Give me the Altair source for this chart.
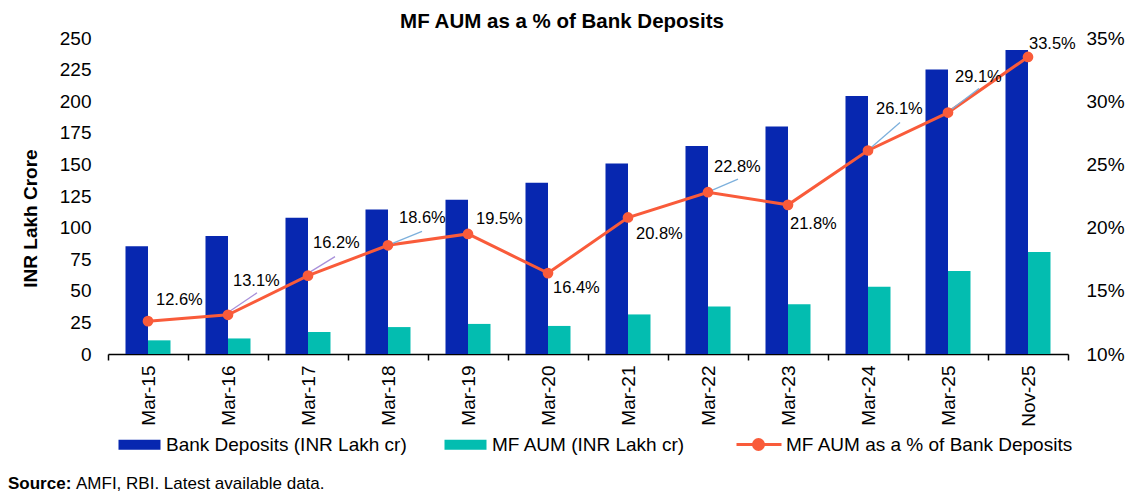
import altair as alt
import pandas as pd

# ---------------- data ----------------
months = ["Mar-15", "Mar-16", "Mar-17", "Mar-18", "Mar-19", "Mar-20",
          "Mar-21", "Mar-22", "Mar-23", "Mar-24", "Mar-25", "Nov-25"]
bank_deposits = [85.3, 93.3, 107.8, 114.3, 122.0, 135.4,
                 150.8, 164.5, 180.0, 204.2, 225.0, 240.6]
mf_aum = [10.8, 12.3, 17.4, 21.3, 23.8, 22.2,
          31.3, 37.5, 39.3, 53.2, 65.6, 80.6]
mf_pct = [12.6, 13.1, 16.2, 18.6, 19.5, 16.4,
          20.8, 22.8, 21.8, 26.1, 29.1, 33.5]
bar_series = ["Bank Deposits (INR Lakh cr)", "MF AUM (INR Lakh cr)"]
line_series = "MF AUM as a % of Bank Deposits"
left_ticks = [0, 25, 50, 75, 100, 125, 150, 175, 200, 225, 250]
right_ticks = [0.10, 0.15, 0.20, 0.25, 0.30, 0.35]

bars_df = pd.DataFrame({
    "month": months * 2,
    "series": [bar_series[0]] * len(months) + [bar_series[1]] * len(months),
    "value": bank_deposits + mf_aum,
})
line_df = pd.DataFrame({"month": months, "pct": [p / 100 for p in mf_pct]})

# ---------------- style ----------------
BLUE = "#0727B0"
TEAL = "#03BDB0"
ORANGE = "#F95B3A"
FONT = "Liberation Sans"

# label offsets (dx, dy) from each point
label_offsets = {
    "Mar-15": (8, -21), "Mar-16": (5, -34), "Mar-17": (5, -33),
    "Mar-18": (11, -27), "Mar-19": (8, -15), "Mar-20": (5, 15),
    "Mar-21": (8, 17), "Mar-22": (6, -25), "Mar-23": (2, 19),
    "Mar-24": (8, -41), "Mar-25": (7, -36), "Nov-25": (1, -13),
}
# leader lines (start dx, start dy, end dx, end dy, colour)
leader_offsets = {
    "Mar-16": (1, -3, 29, -22, "#A890DA"),
    "Mar-17": (1, -3, 27, -19, "#A890DA"),
    "Mar-18": (2, -1, 34, -14, "#7DB0DC"),
    "Mar-22": (2, -1, 30, -13, "#7DB0DC"),
    "Mar-24": (2, -2, 32, -28, "#7DB0DC"),
    "Mar-25": (2, -2, 31, -24, "#7DB0DC"),
}

x_enc = alt.X(
    "month:N", sort=months,
    scale=alt.Scale(paddingInner=0, paddingOuter=0),
    axis=alt.Axis(title=None, labelAngle=-90, labelFontSize=19, labelColor="black",
                  labelPadding=5, domainColor="black", domainWidth=1.5,
                  tickColor="black", tickWidth=1.5, tickSize=6, tickBand="extent",
                  grid=False),
)

bars = alt.Chart(bars_df).mark_bar().encode(
    x=x_enc,
    xOffset=alt.XOffset("series:N", sort=bar_series,
                        scale=alt.Scale(paddingInner=0, paddingOuter=0.778)),
    y=alt.Y("value:Q", scale=alt.Scale(domain=[0, 250], nice=False),
            axis=alt.Axis(values=left_ticks, title="INR Lakh Crore", domain=False,
                          ticks=False, grid=False, labelFontSize=19, labelColor="black",
                          labelPadding=17, titleFontSize=19, titleFontWeight="bold",
                          titleColor="black", titleAngle=270, titleX=-78, titleY=180,
                          titleAlign="center", titleBaseline="middle")),
    color=alt.Color("series:N", sort=bar_series,
                    scale=alt.Scale(domain=bar_series, range=[BLUE, TEAL]),
                    legend=alt.Legend(title=None, orient="none", legendX=6, legendY=397,
                                      direction="horizontal", padding=0,
                                      symbolType="M-1,-1H7.4V1H-1Z", symbolSize=100,
                                      symbolStrokeWidth=0, labelFontSize=19,
                                      labelColor="black", labelOffset=33,
                                      columnPadding=33, labelLimit=400)),
)

y_pct = alt.Y("pct:Q", scale=alt.Scale(domain=[0.10, 0.35], nice=False),
              axis=alt.Axis(orient="right", values=right_ticks, format=".0%", title=None,
                            domain=False, ticks=False, grid=False, labelFontSize=19,
                            labelColor="black", labelPadding=18))

line = alt.Chart(line_df).mark_line(color=ORANGE, strokeWidth=3).encode(x=x_enc, y=y_pct)

leaders = []
for m, (sx, sy, ex, ey, col) in leader_offsets.items():
    leaders.append(
        alt.Chart(line_df).transform_filter(alt.datum.month == m)
        .mark_rule(color=col, strokeWidth=1.3, xOffset=sx, yOffset=sy,
                   x2Offset=ex, y2Offset=ey)
        .encode(x=alt.X("month:N", sort=months, bandPosition=0.5),
                x2=alt.X2("month:N", bandPosition=0.5),
                y=y_pct, y2=alt.Y2("pct:Q"))
    )

points = alt.Chart(line_df).mark_point(filled=True, size=115, opacity=1).encode(
    x=x_enc, y=y_pct,
    fill=alt.Fill("s:N", scale=alt.Scale(domain=[line_series], range=[ORANGE]),
                  legend=alt.Legend(title=None, orient="none", legendX=624, legendY=397,
                                    padding=0,
                                    symbolType="M-1,0H8M4.4,0A1,1,0,1,1,2.4,0A1,1,0,1,1,4.4,0Z",
                                    symbolSize=100, labelFontSize=19, labelColor="black",
                                    labelOffset=35, labelLimit=400,
                                    symbolStrokeColor=ORANGE, symbolStrokeWidth=3)),
).transform_calculate(s=f"'{line_series}'")

labels = []
for m, (dx, dy) in label_offsets.items():
    labels.append(
        alt.Chart(line_df).transform_filter(alt.datum.month == m)
        .mark_text(align="left", baseline="middle", dx=dx, dy=dy, fontSize=16.5,
                   color="black")
        .encode(x=x_enc, y=y_pct, text=alt.Text("pct:Q", format=".1%"))
    )

pct_layer = alt.layer(line, *leaders, points, *labels)

src_df = pd.DataFrame({"t": ["Source:"]})
src_bold = alt.Chart(src_df).mark_text(align="left", baseline="middle", fontSize=17,
                                       fontWeight="bold", color="black").encode(
    x=alt.value(-100), y=alt.value(446), text="t:N")
src_df2 = pd.DataFrame({"t": ["AMFI, RBI. Latest available data."]})
src_rest = alt.Chart(src_df2).mark_text(align="left", baseline="middle", fontSize=17,
                                        color="black").encode(
    x=alt.value(-32), y=alt.value(446), text="t:N")

chart = alt.layer(bars, pct_layer, src_bold, src_rest).resolve_scale(
    y="independent"
).properties(
    width=960, height=316,
    padding={"left": 100, "top": 30, "right": 64, "bottom": 141},
    autosize=alt.AutoSizeParams(type="none"),
    title=alt.Title(line_series, fontSize=20.5, fontWeight="bold", anchor="middle",
                    dx=-26, offset=-3, color="black"),
).configure(font=FONT).configure_view(stroke=None)

chart.save("out.html", embed_options={"renderer": "svg", "actions": False})
